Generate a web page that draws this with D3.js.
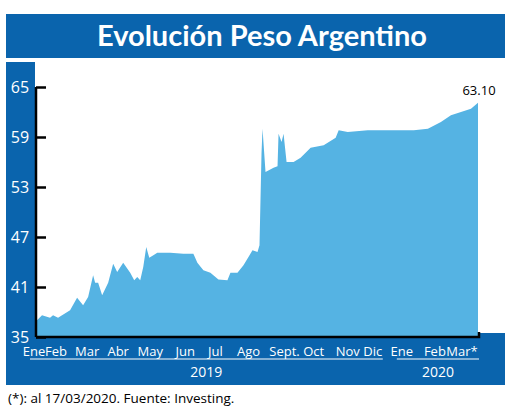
<!DOCTYPE html>
<html>
<head>
<meta charset="utf-8">
<script src="https://cdn.jsdelivr.net/npm/d3@7"></script>
<style>
  body { margin: 0; background: #fff; }
  text { font-family: "Open Sans", sans-serif; }
</style>
</head>
<body>
<div id="chart"></div>
<script>
// Approximate USD/ARS readings from the picture
const dates = [
    '2019-01-01', '2019-01-02', '2019-01-07', '2019-01-15', '2019-01-18', '2019-01-23', '2019-02-04',
    '2019-02-11', '2019-02-17', '2019-02-22', '2019-02-27', '2019-03-01', '2019-03-04', '2019-03-08',
    '2019-03-14', '2019-03-19', '2019-03-23', '2019-03-29', '2019-04-05', '2019-04-09', '2019-04-12',
    '2019-04-15', '2019-04-18', '2019-04-21', '2019-04-24', '2019-05-02', '2019-05-15', '2019-05-28',
    '2019-06-07', '2019-06-11', '2019-06-17', '2019-06-24', '2019-07-02', '2019-07-11', '2019-07-14',
    '2019-07-21', '2019-07-27', '2019-08-05', '2019-08-10', '2019-08-12', '2019-08-14', '2019-08-15',
    '2019-08-18', '2019-08-26', '2019-08-30', '2019-08-31', '2019-09-03', '2019-09-05', '2019-09-08',
    '2019-09-15', '2019-09-22', '2019-10-02', '2019-10-15', '2019-10-27', '2019-10-30', '2019-11-08',
    '2019-11-28', '2019-12-21', '2020-01-13', '2020-01-27', '2020-02-09', '2020-02-19', '2020-02-29',
    '2020-03-10', '2020-03-17'
];
const values = [
    36.4, 37.0, 37.6, 37.3, 37.6, 37.3, 38.2,
    39.7, 38.8, 39.8, 42.4, 41.5, 41.5, 40.0,
    41.5, 43.8, 42.8, 43.9, 42.7, 41.8, 42.2,
    41.8, 43.4, 45.8, 44.5, 45.1, 45.1, 45.0,
    45.0, 43.9, 43.0, 42.7, 41.9, 41.8, 42.7,
    42.7, 43.6, 45.4, 45.2, 46.0, 57.0, 60.0,
    54.8, 55.3, 55.5, 59.4, 58.4, 59.4, 56.0,
    56.0, 56.5, 57.7, 58.0, 58.9, 59.8, 59.6,
    59.8, 59.8, 59.8, 60.0, 60.8, 61.6, 62.0,
    62.4, 63.1
];
const yTicks = [35, 41, 47, 53, 59, 65];
const monthLabels = ['Ene', 'Feb', 'Mar', 'Abr', 'May', 'Jun', 'Jul', 'Ago', 'Sept.', 'Oct', 'Nov', 'Dic', 'Ene', 'Feb', 'Mar*'];
const monthLabelDates = [
    '2018-12-30', '2019-01-21', '2019-02-21', '2019-03-24', '2019-04-25', '2019-05-30', '2019-06-29',
    '2019-08-01', '2019-09-06', '2019-10-05', '2019-11-08', '2019-12-03', '2020-01-01', '2020-02-03', '2020-03-01'
];
const years = ['2019', '2020'];
const yearSpans = [['2018-12-26', '2019-12-13'], ['2019-12-27', '2020-03-18']];
const lastLabel = '63.10';

const W = 520, H = 411;
const blue = '#0a64ad';
const parse = d3.timeParse('%Y-%m-%d');
const data = dates.map((d, i) => ({ date: parse(d), value: values[i] }));

const svg = d3.select('#chart').append('svg')
    .attr('width', W).attr('height', H);

// Blue frame pieces
svg.append('rect').attr('x', 6).attr('y', 14).attr('width', 499).attr('height', 44).attr('fill', blue);
svg.append('rect').attr('x', 6).attr('y', 62).attr('width', 29).attr('height', 323).attr('fill', blue);
svg.append('rect').attr('x', 6).attr('y', 333).attr('width', 499).attr('height', 52).attr('fill', blue);

svg.append('text')
    .attr('x', 262).attr('y', 46)
    .attr('text-anchor', 'middle')
    .attr('fill', '#fff')
    .style('font-family', 'Lato, sans-serif')
    .style('font-weight', 'bold')
    .style('font-size', '29px')
    .text('Evolución Peso Argentino');

svg.append('text')
    .attr('x', 260).attr('y', 80)
    .attr('text-anchor', 'middle')
    .style('font-size', '14px')
    .text('(USD/ARS)');

const x = d3.scaleTime()
    .domain([parse('2019-01-01'), parse('2020-03-17')])
    .range([36, 478]);
const y = d3.scaleLinear().domain([35, 65]).range([337, 87]);

// White plot background over the bottom band
svg.append('rect').attr('x', 35).attr('y', 62).attr('width', 470).attr('height', 271).attr('fill', '#fff');

const area = d3.area()
    .x(d => x(d.date))
    .y0(y(35))
    .y1(d => y(d.value));

svg.append('path')
    .datum(data)
    .attr('d', area)
    .attr('fill', '#55b3e3');

// Y axis
const yAxis = svg.append('g')
    .attr('transform', 'translate(36,0)')
    .call(d3.axisRight(y).tickValues(yTicks).tickSize(10).tickFormat(''));
yAxis.select('.domain').attr('stroke', '#000').attr('stroke-width', 2.5)
    .attr('d', `M0,${y(65)}V${y(35)}`);
yAxis.selectAll('.tick line').attr('stroke', '#000').attr('stroke-width', 2.5);

svg.selectAll('.ylab')
    .data(yTicks)
    .enter().append('text')
    .attr('x', 20).attr('y', d => y(d) + 6)
    .attr('text-anchor', 'middle')
    .attr('fill', d => d === 35 ? '#fff' : '#fff')
    .style('font-family', '"Liberation Sans Narrow", "Open Sans", sans-serif')
    .style('font-size', '16px')
    .text(d => d);

// X axis line
svg.append('path')
    .attr('d', `M36,${y(35)}H${x(parse('2020-03-17')) + 1}V${y(35) - 5}`)
    .attr('fill', 'none')
    .attr('stroke', '#000')
    .attr('stroke-width', 2.5);

// Month labels
svg.selectAll('.mlab')
    .data(monthLabels)
    .enter().append('text')
    .attr('x', (d, i) => x(parse(monthLabelDates[i])))
    .attr('y', 356)
    .attr('text-anchor', 'middle')
    .attr('fill', '#fff')
    .style('font-family', '"Liberation Sans Narrow", "Open Sans", sans-serif')
    .style('font-size', '13px')
    .text(d => d);

// Year spans and labels
years.forEach((yr, i) => {
    const x0 = x(parse(yearSpans[i][0])), x1 = x(parse(yearSpans[i][1]));
    svg.append('line')
        .attr('x1', x0).attr('x2', x1).attr('y1', 359).attr('y2', 359)
        .attr('stroke', '#fff').attr('stroke-width', 1);
    svg.append('text')
        .attr('x', (x0 + x1) / 2).attr('y', 377)
        .attr('text-anchor', 'middle')
        .attr('fill', '#fff')
        .style('font-size', '14px')
        .text(yr);
});

const last = data[data.length - 1];
svg.append('text')
    .attr('x', x(last.date) + 1).attr('y', y(last.value) - 8)
    .attr('text-anchor', 'middle')
    .style('font-size', '13px')
    .text(lastLabel);

svg.append('text')
    .attr('x', 8).attr('y', 403)
    .style('font-size', '13.5px')
    .text('(*): al 17/03/2020. Fuente: Investing.');
</script>
</body>
</html>
